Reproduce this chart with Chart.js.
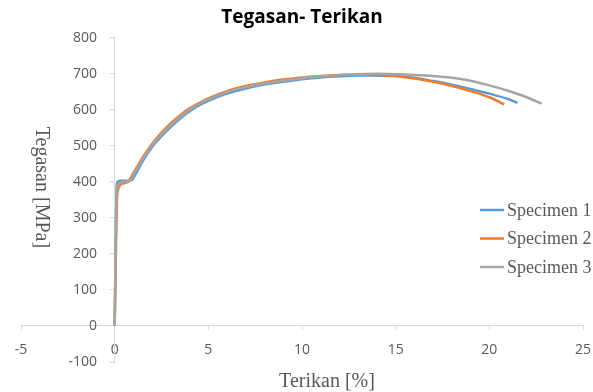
<!DOCTYPE html>
<html>
<head>
<meta charset="utf-8">
<script src="https://cdn.jsdelivr.net/npm/chart.js@4"></script>
<style>
  html, body { margin: 0; padding: 0; background: #fff; }
  #wrap { width: 593px; height: 392px; }
</style>
</head>
<body>
<div id="wrap"><canvas id="grafik"></canvas></div>
<script>
// Data: [terikan %, tegasan MPa]
const specimen1 = [
  [0, 0], [0.05, 200], [0.1, 380], [0.15, 400], [0.3, 403], [0.9, 405], [1.1, 420],
  [1.5, 458], [2, 497], [2.5, 527], [3, 553], [3.5, 576], [4, 596], [4.5, 612],
  [5, 625], [6, 645], [7, 659], [8, 670], [9, 678], [10, 685], [11, 690], [12, 693],
  [13, 695], [14, 695], [15, 694], [16, 689], [17, 680], [18, 670], [19, 658],
  [20, 645], [21, 630], [21.5, 619]
];
const specimen2 = [
  [0, 0], [0.05, 150], [0.1, 300], [0.15, 370], [0.3, 392], [0.7, 400], [1, 425],
  [1.5, 468], [2, 506], [2.5, 537], [3, 563], [3.5, 585], [4, 604], [4.5, 619],
  [5, 632], [6, 652], [7, 666], [8, 676], [9, 684], [10, 690], [11, 694], [12, 697],
  [13, 698], [14, 697], [15, 694], [16, 687], [17, 678], [18, 666], [19, 652],
  [20, 635], [20.8, 615]
];
const specimen3 = [
  [0, 0], [0.05, 200], [0.1, 370], [0.15, 390], [0.3, 398], [0.8, 403], [1, 420],
  [1.5, 463], [2, 502], [2.5, 532], [3, 558], [3.5, 580], [4, 600], [4.5, 616],
  [5, 629], [6, 649], [7, 663], [8, 673], [9, 681], [10, 688], [11, 693], [12, 697],
  [13, 699], [14, 700], [15, 699], [16, 697], [17, 694], [18, 689], [19, 681],
  [20, 668], [21, 653], [22, 635], [22.8, 617]
];
const namaSeri = ['Specimen 1', 'Specimen 2', 'Specimen 3'];
const warna = ['#5B9BD5', '#ED7D31', '#A5A5A5'];

const teksAbu = '#595959';
const garisAbu = '#D9D9D9';

function keTitik(arr) {
  return arr.map(p => ({ x: p[0], y: p[1] }));
}

// Legenda di dalam area grafik (sisi kanan)
const legendaKanan = {
  id: 'legendaKanan',
  afterDraw(chart) {
    const ctx = chart.ctx;
    ctx.save();
    ctx.font = '18px "Liberation Serif"';
    ctx.textBaseline = 'middle';
    ctx.fillStyle = teksAbu;
    chart.data.datasets.forEach((ds, i) => {
      const y = 210 + i * 28.5;
      ctx.strokeStyle = ds.borderColor;
      ctx.lineWidth = 2.5;
      ctx.beginPath();
      ctx.moveTo(480, y);
      ctx.lineTo(504, y);
      ctx.stroke();
      ctx.fillText(ds.label, 507, y + 1);
    });
    ctx.restore();
  }
};

const seri = [specimen1, specimen2, specimen3];

new Chart(document.getElementById('grafik'), {
  type: 'line',
  data: {
    datasets: seri.map((s, i) => ({
      label: namaSeri[i],
      data: keTitik(s),
      borderColor: warna[i],
      backgroundColor: warna[i],
      borderWidth: 2.5,
      pointRadius: 0,
      tension: 0.3,
      fill: false,
      order: 3 - i
    }))
  },
  options: {
    responsive: true,
    maintainAspectRatio: false,
    animation: false,
    layout: { padding: { left: 21, right: 10, top: 0, bottom: 30 } },
    plugins: {
      legend: { display: false },
      tooltip: { enabled: false },
      title: {
        display: true,
        text: 'Tegasan- Terikan',
        color: '#000',
        font: { family: '"Open Sans"', size: 19, weight: 'bold' },
        padding: { top: 6, bottom: 9 }
      }
    },
    scales: {
      x: {
        type: 'linear',
        position: { y: 0 },
        min: -5,
        max: 25,
        ticks: { stepSize: 5, color: teksAbu, font: { family: '"Open Sans"', size: 14 }, padding: 12 },
        grid: { display: true, drawOnChartArea: false, drawTicks: true, tickLength: 4, color: garisAbu },
        border: { color: garisAbu, width: 1 },
        // jangan biarkan padding label ujung menyempitkan area plot
        afterFit: s => { s.paddingLeft = 0; s.paddingRight = 0; },
        title: {
          display: true,
          // spasi di depan menggeser judul sedikit ke kanan seperti aslinya
          text: '\u2003\u2003\u2002Terikan [%]',
          color: teksAbu,
          font: { family: '"Liberation Serif"', size: 20 },
          padding: { top: -1, bottom: 0 }
        }
      },
      y: {
        type: 'linear',
        position: { x: 0 },
        min: -100,
        max: 800,
        ticks: {
          stepSize: 100,
          color: teksAbu,
          font: { family: '"Open Sans"', size: 14 },
          padding: 0,
          // label rata kanan tepat di garis sumbu, beri jarak dengan spasi
          callback: v => v + '\u2003 '
        },
        grid: { display: true, drawOnChartArea: false, drawTicks: true, tickLength: 4, color: garisAbu },
        border: { color: garisAbu, width: 1 },
        title: {
          display: true,
          // spasi di belakang menggeser judul sedikit ke atas
          text: 'Tegasan [MPa]\u2003 ',
          color: teksAbu,
          font: { family: '"Liberation Serif"', size: 20 },
          padding: { top: 11, bottom: 0 }
        }
      }
    }
  },
  plugins: [legendaKanan]
});
</script>
</body>
</html>
